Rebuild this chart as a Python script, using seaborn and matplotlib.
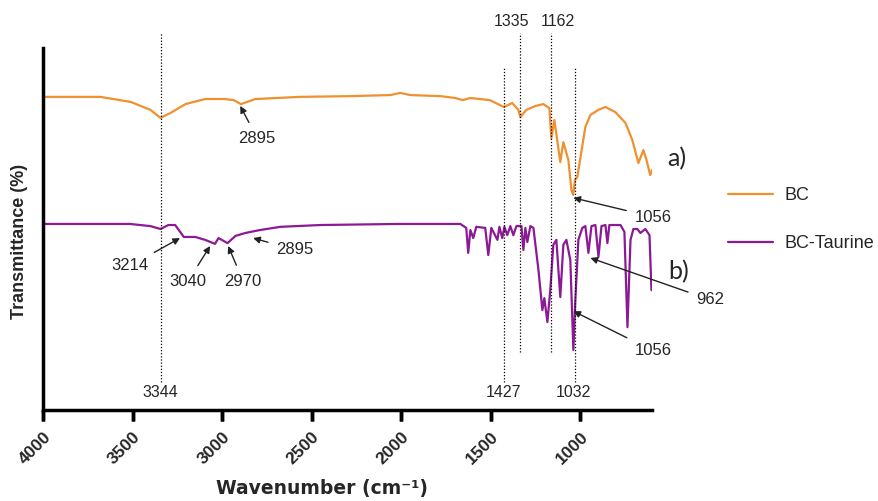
import pandas as pd
# FTIR 스펙트럼 비교 (BC vs BC-Taurine)
import matplotlib.pyplot as plt
import matplotlib.transforms as mtransforms
from matplotlib.lines import Line2D
import seaborn as sns

# BC 스펙트럼 (파수, 투과율)
bc_wavenumber = [4000, 3680, 3510, 3400, 3344, 3290, 3205, 3095, 2985, 2935, 2895, 2815,
                 2565, 2285, 2060, 2005, 1950, 1780, 1700, 1655, 1615, 1505, 1427, 1380,
                 1346, 1335, 1302, 1250, 1207, 1173, 1162, 1145, 1112, 1095, 1067, 1050,
                 1040, 1030, 1017, 972, 944, 900, 860, 805, 748, 710, 676, 648, 631, 610, 600]
bc_transmittance = [86.5, 86.5, 85.1, 82.9, 80.7, 82.0, 84.5, 85.9, 85.9, 85.6, 84.5, 85.9,
                    86.5, 86.7, 87.0, 87.6, 87.0, 86.7, 86.2, 85.6, 86.2, 85.6, 83.7, 84.8,
                    82.9, 80.9, 82.9, 84.0, 84.5, 83.4, 75.1, 80.1, 68.5, 74.0, 69.1, 60.8,
                    59.4, 63.5, 64.4, 78.2, 81.5, 82.9, 83.7, 82.3, 79.3, 74.6, 68.2, 71.8, 69.1, 64.9, 66.3]

# BC-Taurine 스펙트럼
bct_wavenumber = [4000, 3515, 3400, 3344, 3300, 3262, 3214, 3150, 3095, 3040, 3020, 2970,
                  2925, 2870, 2790, 2675, 2450, 2005, 1670, 1637, 1626, 1614, 1598, 1581,
                  1531, 1514, 1497, 1463, 1452, 1436, 1424, 1408, 1391, 1374, 1357, 1329,
                  1318, 1307, 1296, 1279, 1262, 1234, 1212, 1201, 1184, 1168, 1151, 1134,
                  1112, 1095, 1078, 1056, 1039, 1028, 1011, 989, 972, 955, 938, 916, 899,
                  882, 860, 849, 838, 776, 754, 737, 720, 704, 682, 665, 637, 614, 603]
bct_transmittance = [51.4, 51.4, 50.8, 50.0, 51.1, 51.1, 47.8, 47.8, 47.0, 45.9, 47.5, 46.1,
                     48.1, 48.9, 49.7, 50.6, 51.1, 51.4, 51.4, 50.3, 43.4, 49.7, 47.5, 50.6,
                     50.3, 42.8, 50.3, 47.0, 50.6, 47.5, 50.6, 48.3, 50.8, 48.3, 50.8, 50.8,
                     44.2, 50.3, 46.4, 50.8, 50.3, 38.7, 27.6, 30.9, 24.3, 33.1, 45.6, 47.0,
                     31.2, 45.6, 47.0, 41.4, 16.6, 30.4, 47.0, 50.3, 50.8, 43.4, 50.8, 51.1, 42.3,
                     50.8, 51.1, 46.1, 51.1, 51.1, 49.2, 22.9, 47.0, 50.0, 50.0, 48.9, 50.0, 48.3, 33.1]

samples = ['BC', 'BC-Taurine']
colors = ['#f0902e', '#8c1a94']
x_ticks = [4000, 3500, 3000, 2500, 2000, 1500, 1000]

# 점선 표시 피크 (파수, 위쪽 끝, 아래쪽 끝)
marker_peaks = [3344, 1427, 1335, 1162, 1032]
marker_top = [104.1, 94.8, 104.1, 104.1, 94.8]
marker_bottom = [7.7, 7.7, 16.0, 16.0, 7.7]

df = pd.concat([
    pd.DataFrame({'wavenumber': bc_wavenumber, 'transmittance': bc_transmittance, 'sample': 'BC'}),
    pd.DataFrame({'wavenumber': bct_wavenumber, 'transmittance': bct_transmittance, 'sample': 'BC-Taurine'}),
])

sns.set_style('ticks')
plt.rcParams['font.family'] = ['Liberation Sans', 'DejaVu Sans']

fig = plt.figure(figsize=(8.79, 5.01), dpi=100)
ax = fig.add_axes([43 / 879, 91 / 501, 609 / 879, 362 / 501])

sns.lineplot(data=df, x='wavenumber', y='transmittance', hue='sample', hue_order=samples,
             palette=colors, estimator=None, linewidth=1.6, ax=ax)

ax.set_xlim(4000, 600)
ax.set_ylim(0, 100)
ax.set_xticks(x_ticks)
ax.set_xticklabels([str(t) for t in x_ticks],
                   rotation=45, ha='right', rotation_mode='anchor', fontweight='bold', fontsize=12.5)
ax.set_yticks([])
ax.tick_params(axis='x', which='major', direction='out', length=8, width=2.5,
               bottom=True, color='black', pad=6)
for side in ['top', 'right']:
    ax.spines[side].set_visible(False)
for side in ['left', 'bottom']:
    ax.spines[side].set_linewidth(2.5)
    ax.spines[side].set_color('black')

# 눈금 표시를 그림 위에 한 번 더 그림 (x는 데이터 좌표, y는 그림 좌표)
tick_trans = mtransforms.blended_transform_factory(ax.transData, fig.transFigure)
for t in x_ticks:
    fig.add_artist(Line2D([t, t], [91 / 501, 80 / 501], transform=tick_trans,
                          color='black', linewidth=2.5, solid_capstyle='butt', zorder=10))

ax.set_xlabel('Wavenumber (cm⁻¹)', fontweight='bold', fontsize=13.5,
              family=['DejaVu Sans'])
ax.xaxis.set_label_coords(0.458, -0.19)
ax.set_ylabel('Transmittance (%)', fontweight='bold', fontsize=13)
ax.yaxis.set_label_coords(-0.025, 0.465)

# 피크 위치 점선
ax.vlines(marker_peaks, marker_bottom, marker_top, colors='black', linewidth=0.9,
          linestyles=(0, (1, 1.5)), clip_on=False)
ax.text(3346, 4.7, '3344', ha='center', va='center', fontsize=11.5)
ax.text(1430, 4.7, '1427', ha='center', va='center', fontsize=11.5)
ax.text(1039, 4.7, '1032', ha='center', va='center', fontsize=11.5)
ax.text(1385, 107.2, '1335', ha='center', va='center', fontsize=11.5, clip_on=False)
ax.text(1123, 107.2, '1162', ha='center', va='center', fontsize=11.5, clip_on=False)

# 화살표 주석
notes = [
    ('2895', (2899, 84.0), (2804, 75.1)),
    ('3214', (3235, 47.5), (3514, 39.8)),
    ('3040', (3067, 45.3), (3190, 35.6)),
    ('2970', (2966, 45.3), (2883, 35.6)),
    ('2895', (2827, 47.5), (2592, 44.2)),
    ('1056', (1039, 58.6), (592, 53.3)),
    ('962', (944, 42.0), (273, 30.4)),
    ('1056', (1039, 27.3), (592, 16.3)),
]
for label, target, text_pos in notes:
    ax.annotate(label, xy=target, xytext=text_pos, ha='center', va='center', fontsize=12,
                annotation_clip=False,
                arrowprops=dict(arrowstyle='-|>', color='#222222', lw=1.0,
                                mutation_scale=10, shrinkA=4, shrinkB=0))

ax.text(463, 69.3, 'a)', ha='center', va='center', fontsize=18, family='Lato', clip_on=False)
ax.text(452, 38.1, 'b)', ha='center', va='center', fontsize=18, family='Lato', clip_on=False)

sns.move_legend(ax, 'upper left', bbox_to_anchor=(1.125, 0.615), frameon=False, title=None,
                fontsize=13, handlelength=2.5, handletextpad=0.6, labelspacing=1.7,
                borderpad=0, borderaxespad=0)

fig.savefig('out.png', dpi=100)
